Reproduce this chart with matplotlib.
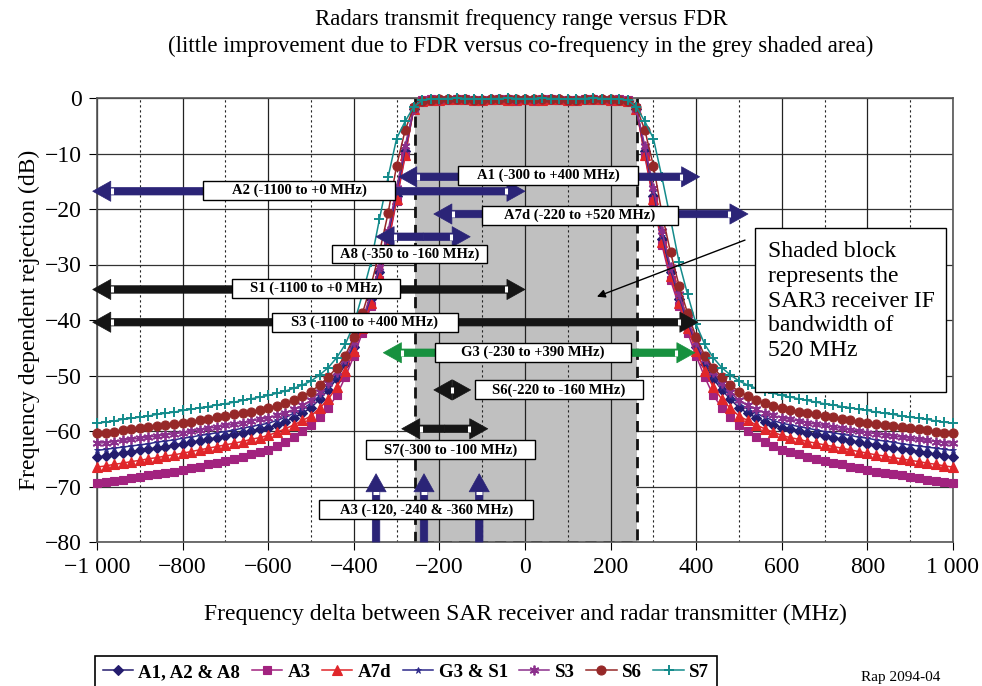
import numpy as np
import matplotlib
matplotlib.use("Agg")
import matplotlib.pyplot as plt
from matplotlib.patches import Rectangle, FancyArrowPatch, ArrowStyle

plt.rcParams['font.family'] = ['Liberation Serif', 'DejaVu Serif']

# frequency offset |delta f| in MHz, FDR curves are symmetric about 0
offset = np.arange(0, 1001, 20)

fdr_a1 = [-0.2, -0.3, -0.2, -0.1, -0.2, -0.4, -0.3, -0.2, -0.1, -0.2, -0.3, -0.3,
          -0.5, -2.0, -9.6, -17.6, -25.4, -31.4, -36.3, -40.8, -44.8, -48.0, -50.6, -52.6, -54.3,
          -55.8, -56.8, -57.6, -58.3, -58.9, -59.4, -59.7, -60.0, -60.3, -60.6, -60.9, -61.2, -61.5,
          -61.8, -62.0, -62.3, -62.5, -62.8, -63.0, -63.3, -63.5, -63.7, -64.0, -64.2, -64.5, -64.7]
fdr_a3 = [-0.3, -0.4, -0.2, -0.2, -0.3, -0.4, -0.3, -0.1, -0.2, -0.3, -0.3, -0.2,
          -0.4, -1.8, -10.5, -18.5, -26.5, -32.8, -37.5, -42.3, -46.5, -50.3, -53.6, -55.8, -57.5,
          -58.9, -60.0, -61.0, -61.9, -62.7, -63.4, -63.8, -64.2, -64.6, -65.0, -65.4, -65.7, -66.0,
          -66.4, -66.7, -67.0, -67.3, -67.5, -67.8, -68.0, -68.3, -68.5, -68.8, -69.0, -69.2, -69.4]
fdr_a7d = [-0.2, -0.3, -0.3, -0.1, -0.2, -0.3, -0.4, -0.2, -0.2, -0.2, -0.3, -0.3,
           -0.5, -2.0, -10.2, -18.2, -26.0, -32.0, -37.0, -41.5, -45.6, -49.2, -52.1, -54.3, -55.9,
           -57.3, -58.1, -58.9, -59.6, -60.2, -60.8, -61.2, -61.5, -61.9, -62.2, -62.5, -62.8, -63.1,
           -63.4, -63.7, -64.0, -64.3, -64.5, -64.8, -65.0, -65.3, -65.5, -65.8, -66.0, -66.3, -66.5]
fdr_g3 = [-0.2, -0.3, -0.2, -0.1, -0.2, -0.4, -0.3, -0.2, -0.1, -0.2, -0.3, -0.3,
          -0.5, -1.9, -9.2, -17.0, -24.8, -31.0, -35.9, -40.4, -44.4, -47.6, -50.1, -52.1, -53.7,
          -55.0, -56.0, -56.8, -57.5, -58.1, -58.6, -58.9, -59.2, -59.5, -59.8, -60.1, -60.3, -60.6,
          -60.8, -61.1, -61.3, -61.6, -61.8, -62.0, -62.3, -62.5, -62.7, -62.9, -63.1, -63.3, -63.5]
fdr_s3 = [-0.2, -0.3, -0.2, -0.1, -0.2, -0.4, -0.3, -0.2, -0.1, -0.2, -0.3, -0.3,
          -0.5, -1.9, -8.6, -16.2, -24.0, -30.4, -35.4, -39.9, -43.9, -47.0, -49.4, -51.3, -53.0,
          -54.5, -55.4, -56.1, -56.7, -57.2, -57.6, -57.9, -58.2, -58.5, -58.8, -59.0, -59.3, -59.5,
          -59.8, -60.0, -60.3, -60.5, -60.7, -60.9, -61.1, -61.3, -61.5, -61.7, -61.9, -62.1, -62.2]
fdr_s6 = [-0.2, -0.2, -0.2, -0.1, -0.2, -0.3, -0.3, -0.2, -0.1, -0.2, -0.2, -0.3,
          -0.5, -1.6, -5.8, -12.2, -20.8, -27.8, -33.8, -38.8, -43.1, -46.4, -48.6, -50.3, -51.7,
          -52.9, -53.7, -54.4, -55.0, -55.5, -55.9, -56.2, -56.5, -56.8, -57.0, -57.3, -57.5, -57.8,
          -58.0, -58.3, -58.5, -58.7, -58.9, -59.1, -59.3, -59.5, -59.7, -59.9, -60.1, -60.3, -60.4]
fdr_s7 = [-0.1, -0.1, 0.0, -0.1, -0.1, -0.2, -0.1, -0.1, 0.0, -0.1, -0.1, -0.2,
          -0.4, -1.6, -4.2, -7.3, -14.3, -21.8, -29.6, -35.4, -40.8, -44.4, -46.8, -48.6, -49.9,
          -51.0, -51.7, -52.3, -52.8, -53.2, -53.6, -53.9, -54.2, -54.5, -54.8, -55.1, -55.3, -55.6,
          -55.8, -56.1, -56.3, -56.6, -56.8, -57.0, -57.3, -57.5, -57.7, -57.9, -58.2, -58.4, -58.6]

series_names = ["A1, A2 & A8", "A3", "A7d", "G3 & S1", "S3", "S6", "S7"]
series_values = [fdr_a1, fdr_a3, fdr_a7d, fdr_g3, fdr_s3, fdr_s6, fdr_s7]

x_ticks = [-1000, -800, -600, -400, -200, 0, 200, 400, 600, 800, 1000]
x_tick_labels = ["\u22121 000", "\u2212800", "\u2212600", "\u2212400", "\u2212200", "0",
                 "200", "400", "600", "800", "1 000"]
y_ticks = [0, -10, -20, -30, -40, -50, -60, -70, -80]
y_tick_labels = ["0", "\u221210", "\u221220", "\u221230", "\u221240", "\u221250",
                 "\u221260", "\u221270", "\u221280"]

# SAR3 receiver IF band (MHz)
if_band = (-258, 262)

# radar transmit ranges as drawn (MHz) and the FDR level they sit at (dB)
range_names = ["A2", "A1", "A7d", "A8", "S1", "S3", "G3", "S6", "S7"]
range_text = ["A2 (-1100 to +0 MHz)", "A1 (-300 to +400 MHz)", "A7d (-220 to +520 MHz)",
              "A8 (-350 to -160 MHz)", "S1 (-1100 to +0 MHz)", "S3 (-1100 to +400 MHz)",
              "G3 (-230 to +390 MHz)", "S6(-220 to -160 MHz)", "S7(-300 to -100 MHz)"]
range_lo = [-1010, -295, -213, -348, -1010, -1010, -331, -213, -288]
range_hi = [0, 408, 521, -128, 0, 404, 397, -127, -87]
range_level = [-16.8, -14.2, -20.9, -25.0, -34.5, -40.4, -45.9, -52.6, -59.6]

# A3 single frequencies (MHz)
a3_text = "A3 (-120, -240 & -360 MHz)"
a3_freqs = [-348, -236, -107]
a3_top = -67.7

# ---- styles / layout ----
navy = '#2B2477'
blk = '#151515'
grn = '#17913F'
range_color = [navy, navy, navy, navy, blk, blk, grn, blk, blk]
# label boxes: left, right (MHz), centre (dB)
box_left = [-752, -157, -100, -451, -685, -591, -210, -117, -371]
box_right = [-304, 264, 357, -89, -292, -157, 248, 276, 23]
box_mid = [-16.7, -14.0, -21.1, -28.1, -34.3, -40.4, -45.9, -52.6, -63.4]
box_h = 3.4

styles = [
    dict(color='#241C6E', marker='D', ms=5, mew=0.8),
    dict(color='#A2237F', marker='s', ms=6, mew=0.8),
    dict(color='#E0262A', marker='^', ms=7, mew=0.8),
    dict(color='#2E2A8A', marker='*', ms=5, mew=0.6),
    dict(color='#8B2F8C', marker=(6, 2, 0), ms=7, mew=1.3),
    dict(color='#962828', marker='o', ms=6.5, mew=0.8),
    dict(color='#148B8B', marker='+', ms=7, mew=1.4),
]

fig = plt.figure(figsize=(9.82, 6.86), dpi=100)
ax = fig.add_axes([97 / 982, 144 / 686, 856 / 982, 444 / 686])
ax.set_xlim(-1000, 1000)
ax.set_ylim(-80, 0)

# horizontal grid sits under the shaded block
for y in y_ticks:
    ax.axhline(y, color='#333333', lw=0.9, zorder=0.2)
ax.add_patch(Rectangle((if_band[0], -80), if_band[1] - if_band[0], 80,
                       fc='#c0c0c0', ec='none', zorder=0.5))
for x in x_ticks:
    ax.axvline(x, color='#222222', lw=0.9, zorder=1)
for x in range(-900, 1000, 200):
    ax.axvline(x, color='#222222', lw=0.8, ls=(0, (2, 2.5)), zorder=1)
ax.plot([if_band[0], if_band[0], if_band[1], if_band[1]], [0, -80, -80, 0],
        color='#111111', lw=2, ls=(0, (4, 2.5)), zorder=2)

for name, vals, st in zip(series_names, series_values, styles):
    vals = np.asarray(vals)
    xf = np.concatenate([-offset[::-1], offset[1:]])
    yf = np.concatenate([vals[::-1], vals[1:]])
    ax.plot(xf, yf, lw=1.1, label=name, clip_on=False, zorder=3,
            mec=st['color'], mfc=st['color'], **st)

head = ArrowStyle.Simple(head_length=13, head_width=14.5, tail_width=5.4)


def block_arrow(p0, p1, color):
    ax.add_patch(FancyArrowPatch(p0, p1, arrowstyle=head, mutation_scale=1,
                                 color=color, lw=0.5, shrinkA=0, shrinkB=0,
                                 clip_on=False, zorder=4))


for i in range(len(range_names)):
    y = range_level[i]
    lo, hi = range_lo[i], range_hi[i]
    mid = (lo + hi) / 2
    block_arrow((mid, y), (lo, y), range_color[i])
    block_arrow((mid, y), (hi, y), range_color[i])
    if hi - lo > 100:
        notches = [lo + 44, hi - 44]
    else:
        notches = [mid]
    ax.plot(notches, [y] * len(notches), ls='none', marker='|', ms=4, mew=2.2,
            color='white', zorder=4.5, clip_on=False)
    ax.add_patch(Rectangle((box_left[i], box_mid[i] - box_h / 2),
                           box_right[i] - box_left[i], box_h,
                           fc='white', ec='black', lw=1, zorder=6))
    ax.text((box_left[i] + box_right[i]) / 2, box_mid[i], range_text[i],
            ha='center', va='center', fontsize=10.5, fontweight='bold', zorder=7)

for x in a3_freqs:
    block_arrow((x, -80), (x, a3_top), navy)
    ax.plot([x], [a3_top - 3.5], ls='none', marker='_', ms=4, mew=2.2,
            color='white', zorder=4.5)
ax.add_patch(Rectangle((-481, -74.2 - box_h / 2), 500, box_h,
                       fc='white', ec='black', lw=1, zorder=6))
ax.text(-231, -74.2, a3_text, ha='center', va='center', fontsize=10.5,
        fontweight='bold', zorder=7)

# note on the shaded block
ax.add_patch(Rectangle((537, -53.0), 447, 29.6, fc='white', ec='black', lw=1, zorder=6))
ax.text(568, -36.6, "Shaded block\nrepresents the\nSAR3 receiver IF\nbandwidth of\n520 MHz",
        ha='left', va='center', fontsize=17, linespacing=1.24, zorder=7)
ax.annotate('', xy=(168, -35.8), xytext=(514, -25.6),
            arrowprops=dict(arrowstyle='-|>', color='black', lw=1, mutation_scale=12,
                            shrinkA=0, shrinkB=0), zorder=6)

ax.set_xticks(x_ticks)
ax.set_xticklabels(x_tick_labels)
ax.set_yticks(y_ticks)
ax.set_yticklabels(y_tick_labels)
ax.tick_params(direction='out', length=6, width=0.8, labelsize=17, pad=5)
for sp in ax.spines.values():
    sp.set_color('#555555')
    sp.set_linewidth(1.2)
    sp.set_zorder(2.5)

fig.text(521 / 982, 1 - 20 / 686, "Radars transmit frequency range versus FDR",
         ha='center', va='center', fontsize=16.5)
fig.text(521 / 982, 1 - 46 / 686,
         "(little improvement due to FDR versus co-frequency in the grey shaded area)",
         ha='center', va='center', fontsize=16.5)
fig.text(525 / 982, 1 - 614 / 686,
         "Frequency delta between SAR receiver and radar transmitter (MHz)",
         ha='center', va='center', fontsize=17)
fig.text(29 / 982, 1 - 320 / 686, "Frequency dependent rejection (dB)",
         ha='center', va='center', rotation=90, fontsize=17)
fig.text(901 / 982, 1 - 677 / 686, "Rap 2094-04", ha='center', va='center', fontsize=11)

leg = fig.legend(loc='upper left', bbox_to_anchor=(95 / 982, 1 - 656 / 686),
                 bbox_transform=fig.transFigure, ncol=7, numpoints=1,
                 prop={'weight': 'bold', 'size': 13.6}, handlelength=1.6,
                 handletextpad=0.3, columnspacing=0.6, borderpad=0.4,
                 borderaxespad=0, fancybox=False, edgecolor='black', framealpha=1)
leg.get_frame().set_linewidth(1.2)

fig.savefig("out.png", dpi=100)
